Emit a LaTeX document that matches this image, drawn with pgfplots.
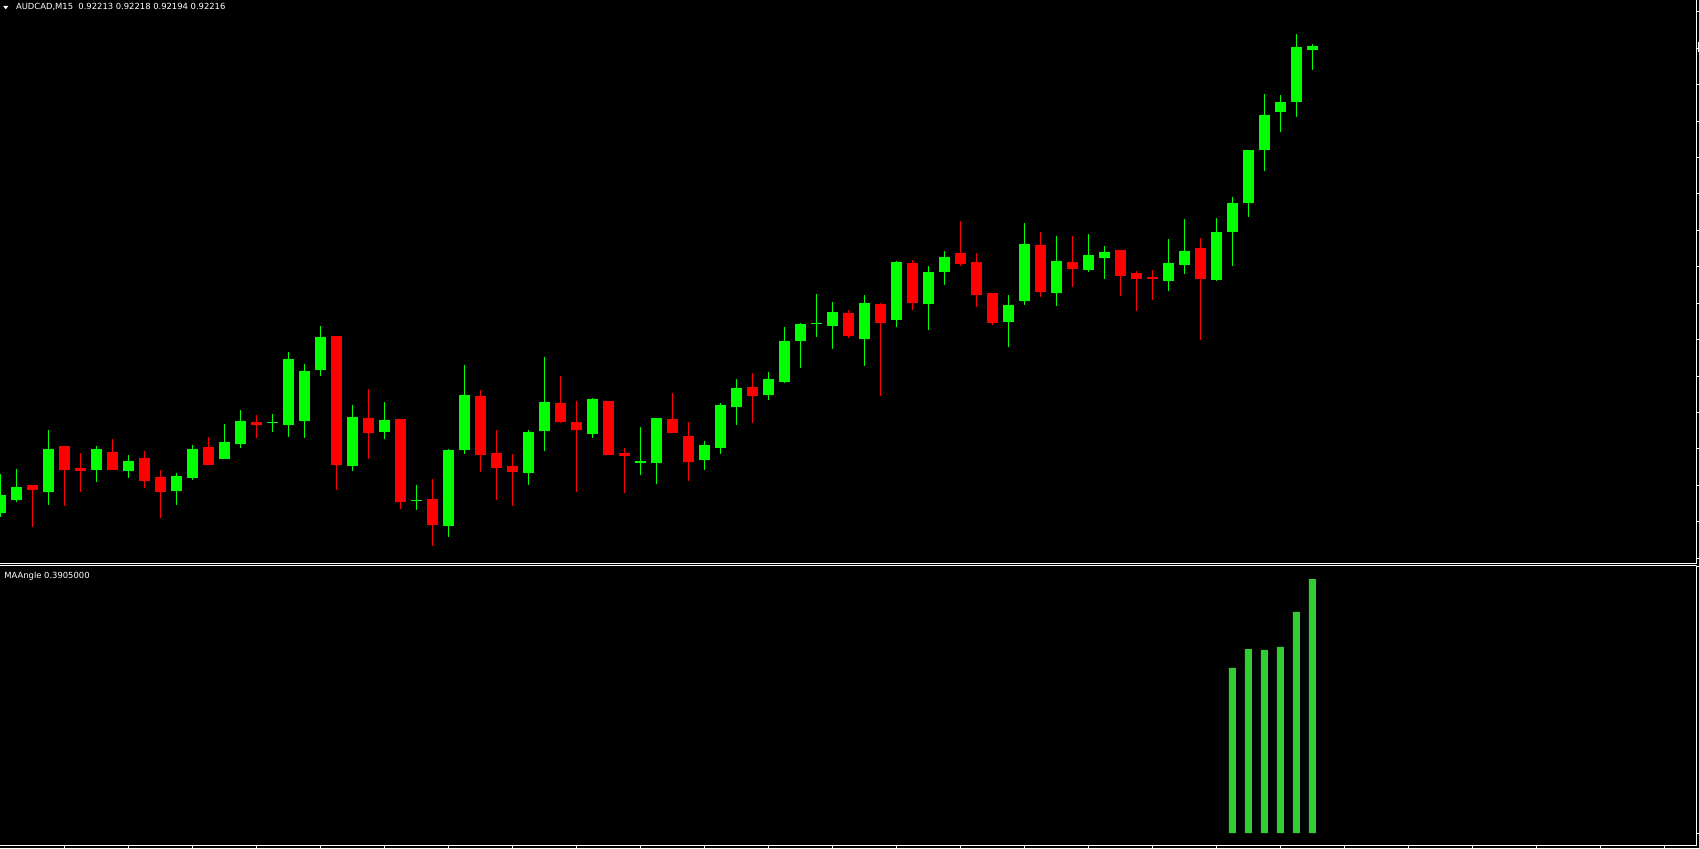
\documentclass[border=0pt]{standalone}
\usepackage{fontspec}
\usepackage{pgfplots}
\pgfplotsset{compat=1.18}
\usepackage{pgfplotstable}
\newfontfamily\mtfont{DejaVu Sans}
\definecolor{bull}{RGB}{0,255,0}
\definecolor{bear}{RGB}{255,0,0}
\definecolor{osc}{RGB}{50,205,50}

% candle values (screen rows from the top of the chart)
\pgfplotstableread{
k hi lo bt bb
0 474 516.7 495 512.7
1 469 501.7 487 499.7
3 430 504.7 449 491.7
6 446 481.7 449 469.7
8 455 477.7 461 470.7
11 473 504.7 476 490.7
12 445 479.7 449 477.7
14 424 458.7 442 458.7
15 410 447.7 421 443.7
17 414 431.7 422 423
18 352 436.7 359 424.7
19 364 437.7 371 420.7
20 326 375.7 337 369.7
22 405 470.7 417 465.7
24 402 438.7 420 431.7
26 484.7 509.7 499.7 500.7
28 449 536.7 450 525.7
29 365 453.7 395 449.7
33 430 484.7 432 472.7
34 357 450.7 402 430.7
37 398 437.7 399 433.7
40 427 474.7 461 462.7
41 418 483.7 418 462.7
44 441 469.7 445 459.7
45 403 453.7 405 447.7
46 379 424.7 388 406.7
48 372 399.7 379 394.7
49 327 382.7 341 381.7
50 323 367.7 324 340.7
51 294 336.7 323 323.7
52 302 348.7 312 325.7
54 295 365.7 303 338.7
56 261 326.7 262 319.7
58 266 329.7 272 303.7
59 251 284.7 257 271.7
63 295 346.7 305 321.7
64 223 304.7 244 300.7
66 236 305.7 261 292.7
68 234 271.7 255 269.7
69 246 278.7 252 257.7
73 239 290.7 263 280.7
74 219 273.7 251 264.7
76 218 280.7 232 279.7
77 197 265.7 203 231.7
78 150 216.7 150 202.7
79 94 170.7 115 149.7
80 95 131.7 102 111.7
81 34 116.7 47 101.7
82 44 69.7 46 49.7
}\greentab

\pgfplotstableread{
k hi lo bt bb
2 485 526.7 485 489.7
4 446 505.7 446 469.7
5 453 491.7 468 470.7
7 439 469.7 452 469.7
9 451 487.7 458 480.7
10 470 517.7 477 491.7
13 437 464.7 447 464.7
16 415 437.7 422 424.7
21 336 489.7 336 464.7
23 389 458.7 418 432.7
25 419 508.7 419 501.7
27 479 545.7 499 524.7
30 390 471.7 396 454.7
31 430 499.7 453 467.7
32 454 505.7 466 471.7
35 376 422.7 403 421.7
36 401 491.7 422 429.7
38 401 454.7 401 454.7
39 448 492.7 453 455.7
42 393 432.7 419 432.7
43 422 480.7 436 461.7
47 373 422.7 387 395.7
53 310 337.7 313 335.7
55 303 395.7 304 322.7
57 260 309.7 263 302.7
60 221 265.7 253 263.7
61 253 306.7 262 294.7
62 293 324.7 293 322.7
65 232 296.7 245 291.7
67 236 286.7 262 268.7
70 250 295.7 250 275.7
71 271 310.7 273 278.7
72 270 299.7 277 278.7
75 238 339.7 248 278.7
}\redtab

\pgfplotstableread{
k v
77 0.2537
78 0.2829
79 0.2814
80 0.2860
81 0.3398
82 0.3905
}\angletab

\pgfplotsset{
  candle/.style n args={2}{forget plot, draw=none, mark=none,
    error bars/.cd, y dir=both, y explicit, error mark=none,
    error bar style={draw=#1, line width=#2, solid}},
}

\begin{document}
\begin{tikzpicture}[x=1pt,y=1pt]
\fill[black] (0,0) rectangle (849.5,424);
\useasboundingbox (0,0) rectangle (849.5,424);

\begin{axis}[
  at={(0pt,142.35pt)}, anchor=south west,
  scale only axis, width=848.35pt, height=281.65pt,
  xmin=-0.01875, xmax=106.025, ymin=-563.3, ymax=0,
  axis x line=bottom, axis y line=right,
  axis line style={draw=white, line width=0.5pt, -},
  xtick={-5}, ytick={20},
  minor ytick={-12,-48.4,-84.8,-121.2,-157.6,-194,-230.4,-266.8,-303.2,-339.6,-376,-412.4,-448.8,-485.2,-521.6,-558},
  tick align=outside, minor tick length=1.2pt, major tick length=1.2pt,
  tick style={draw=white, line width=0.5pt},
  minor tick style={draw=white, line width=0.5pt},
]
% wicks
\addplot[candle={bull}{0.6pt}]
  table[x=k, y expr={-(\thisrow{hi}+\thisrow{lo})/2}, y error expr={(\thisrow{lo}-\thisrow{hi})/2}] {\greentab};
\addplot[candle={bear}{0.6pt}]
  table[x=k, y expr={-(\thisrow{hi}+\thisrow{lo})/2}, y error expr={(\thisrow{lo}-\thisrow{hi})/2}] {\redtab};
% bodies
\addplot[candle={bull}{5.5pt}]
  table[x=k, y expr={-(\thisrow{bt}+\thisrow{bb})/2}, y error expr={(\thisrow{bb}-\thisrow{bt})/2}] {\greentab};
\addplot[candle={bear}{5.5pt}]
  table[x=k, y expr={-(\thisrow{bt}+\thisrow{bb})/2}, y error expr={(\thisrow{bb}-\thisrow{bt})/2}] {\redtab};
\end{axis}

\begin{axis}[
  at={(0pt,1.15pt)}, anchor=south west,
  scale only axis, width=848.35pt, height=140pt,
  xmin=-0.01875, xmax=106.025, ymin=-0.01953, ymax=0.41098,
  axis x line=bottom, axis y line=right,
  axis line style={draw=white, line width=0.5pt, -},
  xtick={-5}, ytick={0.6},
  minor xtick={4,8,...,104},
  minor ytick={0,0.4095},
  tick align=outside, minor tick length=1.2pt, major tick length=1.2pt,
  tick style={draw=white, line width=0.5pt},
  minor tick style={draw=white, line width=0.5pt},
  ybar, bar width=3.5pt,
]
\addplot[fill=osc, draw=none, bar shift=0pt] table[x=k, y=v] {\angletab};
\draw[white, line width=0.5pt] (rel axis cs:0,1) -- (rel axis cs:1,1);
\end{axis}

% title texts
\fill[white] (1.65,421) -- (4.15,421) -- (2.9,419.35) -- cycle;
\node[anchor=base west, inner sep=0pt, text=white, font=\mtfont\fontsize{4.2}{5}\selectfont] at (7.85,419) {AUDCAD,M15\ \ 0.92213 0.92218 0.92194 0.92216};
\node[anchor=base west, inner sep=0pt, text=white, font=\mtfont\fontsize{4.2}{5}\selectfont] at (2,134.85) {MAAngle 0.3905000};
% current price tab at the right edge
\fill[white] (848.85,398.1) rectangle (849.5,403.15);
\end{tikzpicture}
\end{document}
